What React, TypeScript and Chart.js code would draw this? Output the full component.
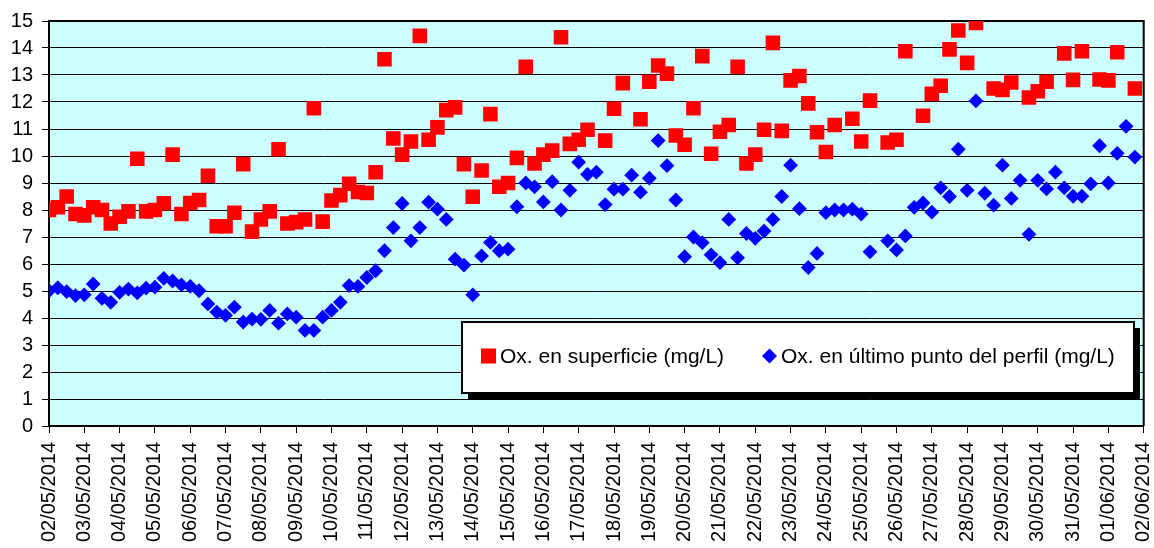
import React, { useEffect, useRef } from "react";
import { Chart, registerables } from "chart.js";

Chart.register(...registerables);

// ---- Data ----
const dateLabels = [
  "02/05/2014", "03/05/2014", "04/05/2014", "05/05/2014", "06/05/2014", "07/05/2014",
  "08/05/2014", "09/05/2014", "10/05/2014", "11/05/2014", "12/05/2014", "13/05/2014",
  "14/05/2014", "15/05/2014", "16/05/2014", "17/05/2014", "18/05/2014", "19/05/2014",
  "20/05/2014", "21/05/2014", "22/05/2014", "23/05/2014", "24/05/2014", "25/05/2014",
  "26/05/2014", "27/05/2014", "28/05/2014", "29/05/2014", "30/05/2014", "31/05/2014",
  "01/06/2014", "02/06/2014",
];

// readings every 6 hours (4 per day), starting 02/05/2014 00:00
const samplesPerDay = 4;

const seriesNames = [
  "Ox. en superficie (mg/L)",
  "Ox. en último punto del perfil (mg/L)",
];

const surfaceOx: (number | null)[] = [
  8.0, 8.1, 8.5, 7.85, 7.8, 8.1, 8.0, 7.5, 7.75, 7.95,
  9.9, 7.95, 8.0, 8.25, 10.05, 7.85, 8.26, 8.37, 9.27, 7.4,
  7.4, 7.9, 9.7, 7.2, 7.65, 7.95, 10.25, 7.5, 7.55, 7.65,
  11.77, 7.57, 8.35, 8.55, 8.97, 8.67, 8.63, 9.4, 13.58, 10.65,
  10.05, 10.54, 14.45, 10.6, 11.06, 11.7, 11.8, 9.7, 8.49, 9.46,
  11.55, 8.86, 9.0, 9.93, 13.3, 9.72, 10.05, 10.2, 14.4, 10.45,
  10.6, 10.97, null, 10.57, 11.75, 12.7, null, 11.36, 12.75, 13.35,
  13.05, 10.76, 10.42, 11.77, 13.7, 10.08, 10.9, 11.15, 13.3, 9.72,
  10.05, 10.97, 14.19, 10.93, 12.8, 12.96, 11.95, 10.88, 10.15, 11.15,
  null, 11.38, 10.54, 12.05, null, 10.5, 10.6, 13.88, null, 11.49,
  12.3, 12.6, 13.95, 14.65, 13.45, 14.93, null, 12.5, 12.45, 12.72,
  null, 12.17, 12.4, 12.75, null, 13.8, 12.82, 13.88, null, 12.83,
  12.8, 13.84, null, 12.5,
];

const bottomOx: (number | null)[] = [
  5.01, 5.12, 4.98, 4.83, 4.86, 5.26, 4.73, 4.58, 4.95, 5.07,
  4.93, 5.11, 5.14, 5.47, 5.37, 5.23, 5.17, 5.01, 4.52, 4.22,
  4.1, 4.4, 3.85, 3.96, 3.95, 4.28, 3.81, 4.15, 4.03, 3.54,
  3.54, 4.03, 4.28, 4.58, 5.2, 5.17, 5.5, 5.75, 6.49, 7.35,
  8.24, 6.86, 7.35, 8.29, 8.03, 7.65, 6.18, 5.96, 4.86, 6.3,
  6.8, 6.49, 6.55, 8.12, 9.0, 8.86, 8.3, 9.05, 8.0, 8.73,
  9.77, 9.32, 9.4, 8.2, 8.77, 8.77, 9.29, 8.66, 9.18, 10.57,
  9.64, 8.37, 6.27, 7.0, 6.79, 6.34, 6.05, 7.65, 6.23, 7.13,
  6.95, 7.22, 7.65, 8.5, 9.66, 8.05, 5.87, 6.39, 7.9, 8.0,
  8.0, 8.03, 7.85, 6.45, null, 6.86, 6.52, 7.04, 8.1, 8.26,
  7.92, 8.82, 8.5, 10.25, 8.73, 12.04, 8.62, 8.18, 9.66, 8.43,
  9.1, 7.1, 9.1, 8.78, 9.4, 8.82, 8.51, 8.51, 8.97, 10.38,
  9.0, 10.1, 11.1, 9.96,
];

const yMin = 0;
const yMax = 15;

// ---- Styles ----
const FONT = "'Liberation Sans', Arial, sans-serif";
const RED = "#FF0000";
const BLUE = "#0000FF";
const PLOT_BG = "#CCFFFF";

const toPoints = (arr: (number | null)[]) =>
  arr.map((v, i) => ({ x: i / samplesPerDay, y: v === null ? NaN : v }));

const bgPlugin = {
  id: "plotBg",
  beforeDraw(chart: any) {
    const { ctx, chartArea: a, width, height } = chart;
    ctx.save();
    ctx.fillStyle = "#FFFFFF";
    ctx.fillRect(0, 0, width, height);
    ctx.fillStyle = PLOT_BG;
    ctx.fillRect(a.left, a.top, a.right - a.left, a.bottom - a.top);
    ctx.restore();
  },
  beforeDatasetsDraw(chart: any) {
    const { ctx, chartArea: a } = chart;
    ctx.save();
    ctx.strokeStyle = "#000";
    ctx.lineWidth = 2;
    ctx.beginPath();
    ctx.moveTo(a.left, a.top);
    ctx.lineTo(a.right, a.top);
    ctx.lineTo(a.right, a.bottom);
    ctx.stroke();
    ctx.restore();
  },
};

const legendLayout = { left: 462, top: 322, right: 1134, bottom: 393, shadow: 6, cy: 356, items: [{ mx: 488.5, tx: 500 }, { mx: 769.5, tx: 781 }] };

const legendPlugin = {
  id: "boxLegend",
  afterDraw(chart: any) {
    const { ctx } = chart;
    const L = legendLayout;
    const w = L.right - L.left;
    const h = L.bottom - L.top;
    ctx.save();
    ctx.fillStyle = "#000";
    ctx.fillRect(L.left + L.shadow, L.top + L.shadow, w, h);
    ctx.fillStyle = "#FFF";
    ctx.fillRect(L.left, L.top, w, h);
    ctx.strokeStyle = "#000";
    ctx.lineWidth = 2;
    ctx.strokeRect(L.left, L.top, w, h);
    ctx.font = `21px ${FONT}`;
    ctx.textBaseline = "middle";
    ctx.textAlign = "left";
    chart.data.datasets.forEach((ds: any, i: number) => {
      const it = L.items[i];
      ctx.fillStyle = ds.backgroundColor;
      if (ds.pointStyle === "rect") {
        ctx.fillRect(it.mx - 7.5, L.cy - 7.5, 15, 15);
      } else {
        ctx.beginPath();
        ctx.moveTo(it.mx - 7.5, L.cy);
        ctx.lineTo(it.mx, L.cy - 7.5);
        ctx.lineTo(it.mx + 7.5, L.cy);
        ctx.lineTo(it.mx, L.cy + 7.5);
        ctx.closePath();
        ctx.fill();
      }
      ctx.fillStyle = "#000";
      ctx.fillText(ds.label, it.tx, L.cy + 1);
    });
    ctx.restore();
  },
};

export default function App() {
  const ref = useRef<HTMLCanvasElement | null>(null);

  useEffect(() => {
    if (!ref.current) return;
    const chart = new Chart(ref.current, {
      type: "scatter",
      data: {
        datasets: [
          {
            label: seriesNames[0],
            data: toPoints(surfaceOx),
            pointStyle: "rect",
            pointRadius: 10.3,
            backgroundColor: RED,
            borderColor: RED,
            borderWidth: 0,
            showLine: false,
          },
          {
            label: seriesNames[1],
            data: toPoints(bottomOx),
            pointStyle: "rectRot",
            pointRadius: 7.4,
            backgroundColor: BLUE,
            borderColor: BLUE,
            borderWidth: 0,
            showLine: false,
          },
        ],
      },
      options: {
        responsive: false,
        animation: false,
        devicePixelRatio: 1,
        layout: { padding: { top: 19, right: 7, left: 0, bottom: 0 } },
        plugins: {
          legend: { display: false },
          tooltip: { enabled: false },
        },
        scales: {
          x: {
            type: "linear",
            min: 0,
            max: dateLabels.length - 1,
            offset: false,
            afterFit: (s: any) => {
              s.height = 122;
              s.paddingLeft = 0;
              s.paddingRight = 0;
            },
            grid: {
              drawOnChartArea: false,
              drawTicks: true,
              tickLength: 7,
              color: "#000",
              lineWidth: 1,
            },
            border: { display: true, color: "#000", width: 2 },
            ticks: {
              stepSize: 1,
              autoSkip: false,
              maxRotation: 90,
              minRotation: 90,
              padding: 9,
              color: "#000",
              font: { family: FONT, size: 20 },
              callback: (v: any) => dateLabels[Number(v)] ?? "",
            },
          },
          y: {
            min: yMin,
            max: yMax,
            afterFit: (s: any) => {
              s.width = 49;
            },
            grid: {
              drawOnChartArea: true,
              drawTicks: true,
              tickLength: 7,
              color: "#000",
              lineWidth: 1,
            },
            border: { display: true, color: "#000", width: 2 },
            ticks: {
              stepSize: 1,
              padding: 9,
              color: "#000",
              font: { family: FONT, size: 20 },
            },
          },
        },
      },
      plugins: [bgPlugin, legendPlugin],
    });
    return () => chart.destroy();
  }, []);

  return (
    <div style={{ position: "fixed", left: 0, top: 0, width: 1154, height: 548, overflow: "hidden", background: "#fff" }}>
      <canvas ref={ref} width={1154} height={548} style={{ display: "block" }} />
    </div>
  );
}
